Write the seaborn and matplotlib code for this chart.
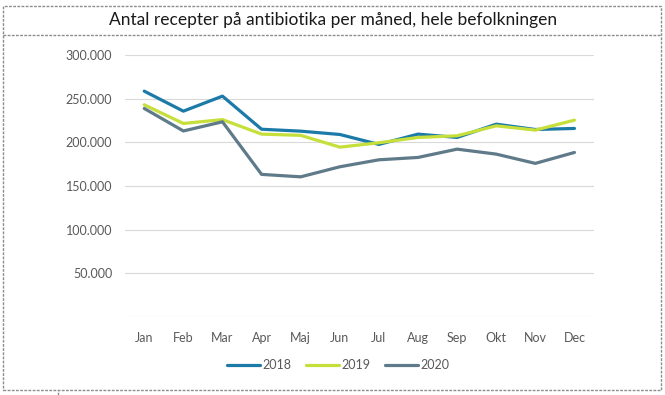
import matplotlib
matplotlib.use('Agg')
import matplotlib.pyplot as plt
import seaborn as sns
import pandas as pd
from matplotlib.patches import Rectangle
from matplotlib.lines import Line2D
from matplotlib.ticker import FuncFormatter

# Data
months = ['Jan', 'Feb', 'Mar', 'Apr', 'Maj', 'Jun', 'Jul', 'Aug', 'Sep', 'Okt', 'Nov', 'Dec']
years = ['2018', '2019', '2020']
rx_2018 = [258600, 235700, 252900, 215000, 212800, 209000, 197600, 209400, 205600, 220800, 214700, 215900]
rx_2019 = [243000, 221600, 226000, 209400, 208000, 194500, 199500, 205600, 207500, 218900, 214000, 225400]
rx_2020 = [238800, 213000, 223500, 163300, 160500, 172000, 180000, 182700, 192200, 186500, 175900, 188400]
y_ticks = [0, 50000, 100000, 150000, 200000, 250000, 300000]
colors = {'2018': '#1C7AA8', '2019': '#C6DF3A', '2020': '#5F7A88'}

df = pd.DataFrame({
    'Måned': months * 3,
    'Antal': rx_2018 + rx_2019 + rx_2020,
    'År': [y for y in years for _ in months],
})

sns.set_theme(style='white')
plt.rcParams['font.family'] = ['Lato', 'DejaVu Sans']

fig = plt.figure(figsize=(6.65, 3.95), dpi=100)
ax = fig.add_axes([124.7 / 665, (395 - 317) / 395, (594 - 124.7) / 665, 262 / 395])

sns.lineplot(data=df, x='Måned', y='Antal', hue='År', palette=colors,
             linewidth=2.3, sort=False, legend=False, ax=ax)

ax.set_xlim(-0.5, 11.5)
ax.set_ylim(0, 300000)
ax.set_yticks(y_ticks)
ax.yaxis.set_major_formatter(FuncFormatter(
    lambda v, p: '' if v == 0 else f'{int(v):,}'.replace(',', '.')))
ax.grid(axis='y', color='#D9D9D9', linewidth=0.8)
ax.set_axisbelow(True)
for s in ax.spines.values():
    s.set_visible(False)
ax.tick_params(axis='y', length=0, pad=9, labelsize=9, labelcolor='#595959')
ax.tick_params(axis='x', length=0, pad=11, labelsize=9, labelcolor='#595959')
ax.set_xlabel('')
ax.set_ylabel('')

# legend below the plot
handles = [Line2D([0], [0], color=colors[y], linewidth=2.3) for y in years]
fig.legend(handles, years, loc='center', bbox_to_anchor=(338 / 665, (395 - 365) / 395),
           ncol=3, frameon=False, fontsize=9, handlelength=2.6, handletextpad=0.2,
           columnspacing=1.2, labelcolor='#595959')

# title box
fig.text(333 / 665, (395 - 20) / 395, 'Antal recepter på antibiotika per måned, hele befolkningen',
         ha='center', va='center', fontsize=12.5, color='#1a1a1a')

# dashed frame lines like the screenshot
dash = dict(color='#8C8C8C', linewidth=1.0, linestyle=(0, (2, 1)))
fig.add_artist(Rectangle((3 / 665, (395 - 390) / 395), 658 / 665, 384 / 395,
                         transform=fig.transFigure, fill=False, **dash))
fig.add_artist(Line2D([3 / 665, 661 / 665], [(395 - 35) / 395] * 2,
                      transform=fig.transFigure, **dash))
fig.add_artist(Line2D([58 / 665] * 2, [0, (395 - 390) / 395],
                      transform=fig.transFigure, **dash))

fig.savefig('out.png', dpi=100)
